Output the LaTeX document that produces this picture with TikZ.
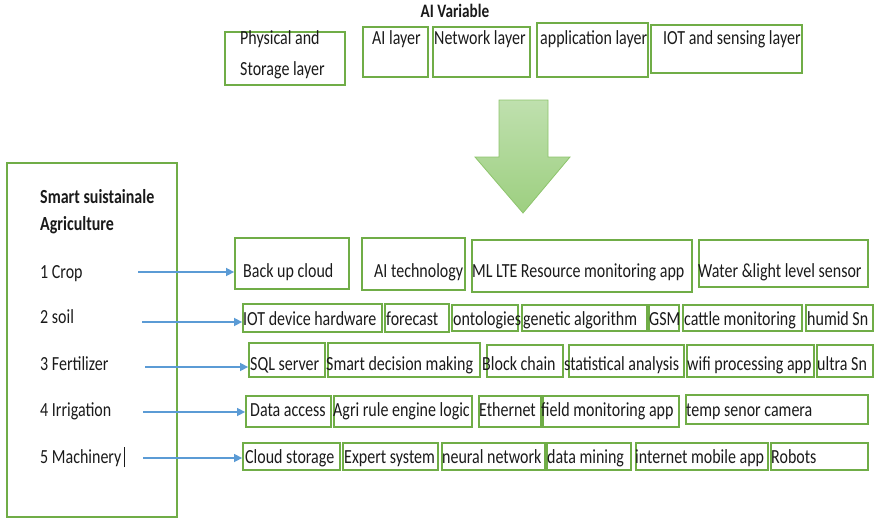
\documentclass[tikz,border=0pt]{standalone}
\usepackage{fontspec}
\setmainfont{Carlito}[FakeStretch=0.8]
\usetikzlibrary{arrows.meta}
\definecolor{boxgreen}{HTML}{70AD47}
\definecolor{arrblue}{HTML}{5B9BD5}
\definecolor{bigtop}{HTML}{BFE0AE}
\definecolor{bigbot}{HTML}{9DCF80}
\definecolor{bigedge}{HTML}{8DC46C}
\definecolor{txt}{HTML}{1A1A1A}
\tikzset{
  box/.style={draw=boxgreen, line width=1.8pt, rectangle, inner sep=0pt},
  lbl/.style={inner sep=0pt, anchor=base west, font=\fontsize{20}{24}\selectfont, text=txt},
  arr/.style={draw=arrblue, line width=1.5pt, -{Triangle[length=8pt,width=8pt]}},
}
\newcommand\bx[5]{\node[box, minimum width={(#4-#2)*1pt}, minimum height={(#5-#3)*1pt}] (#1) at ({(#2+#4)/2},{(#3+#5)/2}) {};}
\newcommand\tx[4]{\node[lbl] (#1) at (#2,#3) {#4};}
\begin{document}
\begin{tikzpicture}[x=1pt,y=-1pt]
\useasboundingbox (0,0) rectangle (874,519);
% title
\node[lbl, anchor=base, font=\fontsize{19}{22}\selectfont\bfseries] (title) at (455,18) {AI Variable};
% top layer boxes
\bx{t1}{225}{32}{345}{85}
\tx{t1a}{240}{45}{Physical and}
\tx{t1b}{240}{75}{Storage layer}
\bx{t2}{363}{27}{428}{77}
\tx{t2a}{372}{45}{AI layer}
\bx{t3}{433}{27}{530}{77}
\tx{t3a}{434}{45}{Network layer}
\bx{t4}{537}{23}{648}{77}
\tx{t4a}{540}{45}{application layer}
\bx{t5}{651}{25}{802}{73}
\tx{t5a}{663}{45}{IOT and sensing layer}
% big arrow
\path[shade, top color=bigtop, bottom color=bigbot, draw=bigedge, line width=0.8pt]
  (499,100) -- (548,100) -- (548,157) -- (570,157) -- (523,213) -- (475,157) -- (499,157) -- cycle;
% left box
\node[box, minimum width=170pt, minimum height=354pt] (left) at (92,340) {};
\node[lbl, font=\fontsize{20}{24}\selectfont\bfseries] (l0a) at (40,203) {Smart suistainale};
\node[lbl, font=\fontsize{20}{24}\selectfont\bfseries] (l0b) at (40,230) {Agriculture};
\tx{l1}{40}{278}{1 Crop}
\tx{l2}{40}{323}{2 soil}
\tx{l3}{40}{370}{3 Fertilizer}
\tx{l4}{40}{416.5}{4 Irrigation}
\tx{l5}{40}{463}{5 Machinery}
\draw[line width=0.9pt, txt] (l5.base east) ++(3,4) coordinate (cur1) -- ++(0,-20) coordinate (cur2);
% row 1
\bx{r11}{235}{238}{349}{289}
\tx{r11t}{243}{277}{Back up cloud}
\bx{r12}{362}{238}{465}{290}
\tx{r12t}{374}{277}{AI technology}
\bx{r13}{472}{240}{692}{292}
\tx{r13t}{472}{277}{ML LTE Resource monitoring app}
\bx{r14}{699}{240}{868}{287}
\tx{r14t}{698}{277}{Water \&light level sensor}
% row 2
\bx{r21}{243}{304}{382}{332}
\tx{r21t}{243}{325}{IOT device hardware}
\bx{r22}{385}{304}{449}{332}
\tx{r22t}{386}{325}{forecast}
\bx{r23}{452}{305}{518}{331}
\tx{r23t}{453}{325}{ontologies}
\bx{r24}{522}{305}{647}{331}
\tx{r24t}{523}{325}{genetic algorithm}
\bx{r25}{649}{305}{679}{331}
\tx{r25t}{649}{325}{GSM}
\bx{r26}{683}{305}{802}{331}
\tx{r26t}{684}{325}{cattle monitoring}
\bx{r27}{806}{305}{873}{331}
\tx{r27t}{807}{325}{humid Sn}
% row 3
\bx{r31}{249}{343}{325}{377}
\tx{r31t}{250}{370}{SQL server}
\bx{r32}{328}{343}{480}{377}
\tx{r32t}{326}{370}{Smart decision making}
\bx{r33}{487}{345}{563}{377}
\tx{r33t}{482}{370}{Block chain}
\bx{r34}{569}{345}{684}{377}
\tx{r34t}{564}{370}{statistical analysis}
\bx{r35}{687}{345}{814}{377}
\tx{r35t}{687}{370}{wifi processing app}
\bx{r36}{817}{345}{873}{377}
\tx{r36t}{817}{370}{ultra Sn}
% row 4
\bx{r41}{246}{396}{331}{427}
\tx{r41t}{250}{416.5}{Data access}
\bx{r42}{334}{396}{472}{427}
\tx{r42t}{333}{416.5}{Agri rule engine logic}
\bx{r43}{479}{396}{541}{427}
\tx{r43t}{479}{416.5}{Ethernet}
\bx{r44}{543}{396}{679}{427}
\tx{r44t}{541}{416.5}{field monitoring app}
\bx{r45}{686}{395}{868}{424}
\tx{r45t}{686}{416.5}{temp senor camera}
% row 5
\bx{r51}{243}{443}{340}{470}
\tx{r51t}{245}{463}{Cloud storage}
\bx{r52}{343}{443}{438}{470}
\tx{r52t}{344}{463}{Expert system}
\bx{r53}{442}{443}{545}{470}
\tx{r53t}{442}{463}{neural network}
\bx{r54}{547}{443}{631}{470}
\tx{r54t}{547}{463}{data mining}
\bx{r55}{636}{443}{768}{470}
\tx{r55t}{635}{463}{internet mobile app}
\bx{r56}{771}{443}{868}{470}
\tx{r56t}{771}{463}{Robots}
% arrows
\coordinate (a1) at (138,272);
\coordinate (a2) at (142,322);
\coordinate (a3) at (145,367);
\coordinate (a4) at (143,412);
\coordinate (a5) at (143,458);
\draw[arr] (a1) -- (a1 -| r11.west);
\draw[arr] (a2) -- (a2 -| r21.west);
\draw[arr] (a3) -- (a3 -| r31.west);
\draw[arr] (a4) -- (a4 -| r41.west);
\draw[arr] (a5) -- (a5 -| r51.west);
\end{tikzpicture}
\end{document}
